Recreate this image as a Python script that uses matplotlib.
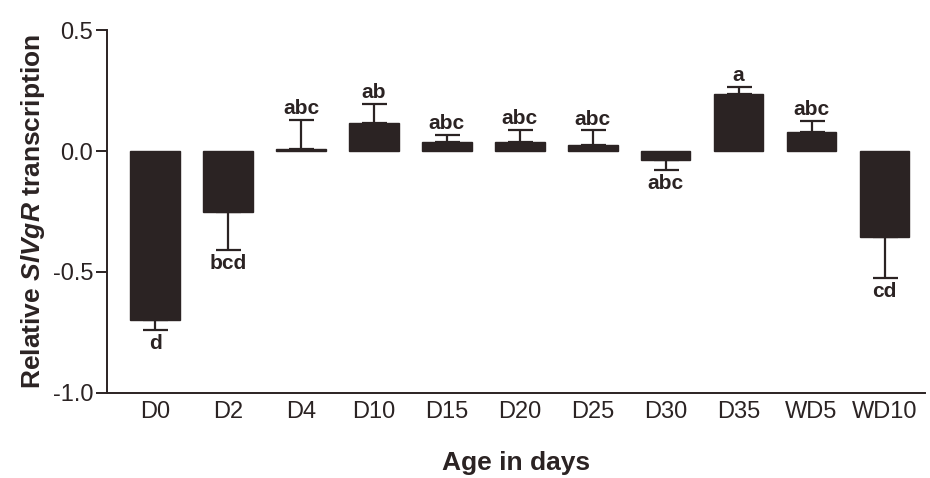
import numpy as np
import matplotlib
matplotlib.use('Agg')
import matplotlib.pyplot as plt

plt.rcParams['font.family'] = ['Liberation Sans', 'DejaVu Sans']
plt.rcParams['mathtext.fontset'] = 'custom'
plt.rcParams['mathtext.it'] = 'Liberation Sans:bold:italic'
plt.rcParams['mathtext.rm'] = 'Liberation Sans:bold'

days    = ['D0', 'D2', 'D4', 'D10', 'D15', 'D20', 'D25', 'D30', 'D35', 'WD5', 'WD10']
means   = [-0.70, -0.25, 0.01, 0.115, 0.037, 0.038, 0.025, -0.038, 0.236, 0.08, -0.354]
errs    = [0.04, 0.16, 0.12, 0.08, 0.03, 0.05, 0.06, 0.04, 0.03, 0.045, 0.17]
letters = ['d', 'bcd', 'abc', 'ab', 'abc', 'abc', 'abc', 'abc', 'a', 'abc', 'cd']

INK = '#2b2323'
x = np.arange(len(days))
m = np.array(means); e = np.array(errs)
lo = np.where(m < 0, e, 0)
hi = np.where(m >= 0, e, 0)

fig = plt.figure(figsize=(9.3, 4.78), dpi=100)
ax = fig.add_axes([0.115, 0.178, 0.88, 0.759])

ax.bar(x, m, width=0.68, color=INK, edgecolor=INK, zorder=2)
ax.errorbar(x, m, yerr=[lo, hi], fmt='none', ecolor=INK, elinewidth=1.6,
            capsize=9, capthick=1.6, zorder=1)

for xi, mi, ei, lab in zip(x, m, e, letters):
    if mi >= 0:
        ax.annotate(lab, (xi, mi + ei), xytext=(0, 1), textcoords='offset points',
                    ha='center', va='bottom', fontsize=15, fontweight='bold', color=INK)
    else:
        ax.annotate(lab, (xi, mi - ei), xytext=(0, -3), textcoords='offset points',
                    ha='center', va='top', fontsize=15, fontweight='bold', color=INK)

ax.set_xlim(-0.66, 10.56)
ax.set_ylim(-1.0, 0.5)
ax.set_yticks([-1.0, -0.5, 0.0, 0.5])
ax.set_yticklabels(['-1.0', '-0.5', '0.0', '0.5'])
ax.set_xticks(x)
ax.set_xticklabels(days)
ax.tick_params(axis='x', length=0, pad=6, labelsize=17, colors=INK)
ax.tick_params(axis='y', length=8, width=1.4, pad=2, labelsize=17, colors=INK)
for s in ['top', 'right']:
    ax.spines[s].set_visible(False)
for s in ['left', 'bottom']:
    ax.spines[s].set_linewidth(1.4)
    ax.spines[s].set_color(INK)

ax.set_ylabel(r'Relative $\mathit{SlVgR}$ transcription', fontsize=19,
              fontweight='bold', color=INK, labelpad=4)
ax.set_xlabel('Age in days', fontsize=19, fontweight='bold', color=INK, labelpad=20)

fig.savefig('out.png', dpi=100)
